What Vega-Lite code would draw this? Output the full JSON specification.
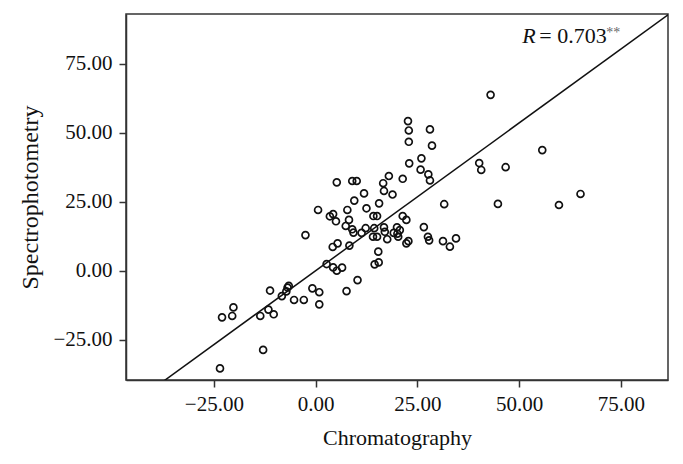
{
  "$schema": "https://vega.github.io/schema/vega-lite/v6.json",
  "width": 542,
  "height": 366,
  "autosize": "none",
  "padding": {"left": 126, "top": 14, "right": 15, "bottom": 84},
  "background": "white",
  "config": {
    "view": {"stroke": "#333333", "strokeWidth": 1.5},
    "font": "Liberation Serif",
    "axis": {
      "grid": false,
      "domainColor": "#333333",
      "domainWidth": 1.5,
      "tickColor": "#333333",
      "tickWidth": 1.5,
      "tickSize": 7,
      "labelFont": "Liberation Serif",
      "labelFontSize": 21,
      "labelColor": "#111111",
      "titleFont": "Liberation Serif",
      "titleFontSize": 22,
      "titleFontWeight": "normal",
      "titleColor": "#111111"
    }
  },
  "datasets": {
    "points": [
      {"chromatography": -23.5, "spectro": -35.4},
      {"chromatography": -12.9, "spectro": -28.7},
      {"chromatography": -23.0, "spectro": -16.9},
      {"chromatography": -20.5, "spectro": -16.4},
      {"chromatography": -20.2, "spectro": -13.3},
      {"chromatography": -13.6, "spectro": -16.4},
      {"chromatography": -11.6, "spectro": -14.1},
      {"chromatography": -10.3, "spectro": -15.8},
      {"chromatography": -11.2, "spectro": -7.2},
      {"chromatography": -8.3, "spectro": -9.2},
      {"chromatography": -7.2, "spectro": -7.5},
      {"chromatography": -6.9, "spectro": -6.1},
      {"chromatography": -6.6, "spectro": -5.5},
      {"chromatography": -5.3, "spectro": -10.6},
      {"chromatography": -2.9, "spectro": -10.6},
      {"chromatography": -0.8, "spectro": -6.4},
      {"chromatography": 0.9, "spectro": -7.8},
      {"chromatography": 0.9, "spectro": -12.2},
      {"chromatography": -2.5, "spectro": 12.9},
      {"chromatography": 2.7, "spectro": 2.4},
      {"chromatography": 4.3, "spectro": 1.2},
      {"chromatography": 5.2, "spectro": 0.0},
      {"chromatography": 6.5, "spectro": 1.1},
      {"chromatography": 10.3, "spectro": -3.4},
      {"chromatography": 7.6, "spectro": -7.4},
      {"chromatography": 4.2, "spectro": 8.6},
      {"chromatography": 5.4, "spectro": 9.9},
      {"chromatography": 8.3, "spectro": 9.1},
      {"chromatography": 15.4, "spectro": 6.9},
      {"chromatography": 14.5, "spectro": 2.3},
      {"chromatography": 15.5, "spectro": 3.0},
      {"chromatography": 0.6, "spectro": 22.0},
      {"chromatography": 7.8, "spectro": 22.0},
      {"chromatography": 12.5, "spectro": 22.6},
      {"chromatography": 3.5, "spectro": 19.7},
      {"chromatography": 4.3, "spectro": 20.5},
      {"chromatography": 5.0, "spectro": 17.9},
      {"chromatography": 8.2, "spectro": 18.4},
      {"chromatography": 14.2, "spectro": 19.8},
      {"chromatography": 15.1, "spectro": 19.8},
      {"chromatography": 21.4, "spectro": 19.8},
      {"chromatography": 22.3, "spectro": 18.4},
      {"chromatography": 31.6, "spectro": 24.1},
      {"chromatography": 7.4, "spectro": 16.2},
      {"chromatography": 9.0, "spectro": 15.0},
      {"chromatography": 9.3, "spectro": 13.8},
      {"chromatography": 12.3, "spectro": 15.4},
      {"chromatography": 11.3, "spectro": 13.7},
      {"chromatography": 14.4, "spectro": 15.4},
      {"chromatography": 16.8, "spectro": 15.7},
      {"chromatography": 17.0, "spectro": 14.1},
      {"chromatography": 20.0, "spectro": 15.7},
      {"chromatography": 20.7, "spectro": 14.7},
      {"chromatography": 19.2, "spectro": 13.7},
      {"chromatography": 20.1, "spectro": 13.4},
      {"chromatography": 26.6, "spectro": 15.8},
      {"chromatography": 14.1, "spectro": 12.3},
      {"chromatography": 15.1, "spectro": 12.3},
      {"chromatography": 17.6, "spectro": 11.4},
      {"chromatography": 20.3, "spectro": 12.3},
      {"chromatography": 27.6, "spectro": 12.3},
      {"chromatography": 27.9, "spectro": 11.0},
      {"chromatography": 22.8, "spectro": 10.7},
      {"chromatography": 22.3, "spectro": 9.9},
      {"chromatography": 31.3, "spectro": 10.7},
      {"chromatography": 33.0, "spectro": 8.7},
      {"chromatography": 34.5, "spectro": 11.7},
      {"chromatography": 5.2, "spectro": 32.0},
      {"chromatography": 9.0, "spectro": 32.5},
      {"chromatography": 10.1, "spectro": 32.5},
      {"chromatography": 16.6, "spectro": 31.7},
      {"chromatography": 11.9, "spectro": 28.0},
      {"chromatography": 16.8, "spectro": 28.9},
      {"chromatography": 18.9, "spectro": 27.6},
      {"chromatography": 9.5, "spectro": 25.4},
      {"chromatography": 15.6, "spectro": 24.4},
      {"chromatography": 18.0, "spectro": 34.3},
      {"chromatography": 21.4, "spectro": 33.3},
      {"chromatography": 22.7, "spectro": 54.2},
      {"chromatography": 22.9, "spectro": 50.8},
      {"chromatography": 22.9, "spectro": 46.7},
      {"chromatography": 28.1, "spectro": 51.2},
      {"chromatography": 28.6, "spectro": 45.3},
      {"chromatography": 26.0, "spectro": 40.7},
      {"chromatography": 23.0, "spectro": 38.9},
      {"chromatography": 25.8, "spectro": 36.6},
      {"chromatography": 27.7, "spectro": 34.9},
      {"chromatography": 28.1, "spectro": 32.7},
      {"chromatography": 40.2, "spectro": 39.0},
      {"chromatography": 40.7, "spectro": 36.5},
      {"chromatography": 46.7, "spectro": 37.5},
      {"chromatography": 43.0, "spectro": 63.7},
      {"chromatography": 55.7, "spectro": 43.7},
      {"chromatography": 44.8, "spectro": 24.2},
      {"chromatography": 59.8, "spectro": 23.8},
      {"chromatography": 65.1, "spectro": 27.8}
    ],
    "fit": [
      {"chromatography": -46.6, "spectro": -49.9},
      {"chromatography": 86.6, "spectro": 92.7}
    ],
    "note": [
      {"chromatography": 50.8, "spectro": 82.4}
    ]
  },
  "encoding": {
    "x": {
      "field": "chromatography",
      "type": "quantitative",
      "scale": {"domain": [-46.6, 86.6], "nice": false, "zero": false},
      "axis": {"values": [-25, 0, 25, 50, 75], "format": ".2f", "title": "Chromatography", "labelPadding": 6, "titlePadding": 13}
    },
    "y": {
      "field": "spectro",
      "type": "quantitative",
      "scale": {"domain": [-39.6, 93.0], "nice": false, "zero": false},
      "axis": {"values": [-25, 0, 25, 50, 75], "format": ".2f", "title": "Spectrophotometry", "titleFontSize": 24, "labelPadding": 7, "titlePadding": 10}
    }
  },
  "layer": [
    {
      "data": {"name": "fit"},
      "mark": {"type": "line", "color": "#111111", "strokeWidth": 1.5, "clip": true},
      "encoding": {}
    },
    {
      "data": {"name": "points"},
      "mark": {"type": "point", "shape": "circle", "filled": false, "size": 48, "stroke": "#111111", "strokeWidth": 1.7, "opacity": 1}
    },
    {
      "data": {"name": "note"},
      "mark": {"type": "text", "text": "R", "align": "left", "baseline": "alphabetic", "fontStyle": "italic", "fontSize": 22, "color": "#111111"}
    },
    {
      "data": {"name": "note"},
      "mark": {"type": "text", "text": "= 0.703", "align": "left", "baseline": "alphabetic", "dx": 17, "fontSize": 22, "color": "#111111"}
    },
    {
      "data": {"name": "note"},
      "mark": {"type": "text", "text": "**", "align": "left", "baseline": "alphabetic", "dx": 84, "dy": -6, "fontSize": 14, "color": "#666666"}
    }
  ]
}
